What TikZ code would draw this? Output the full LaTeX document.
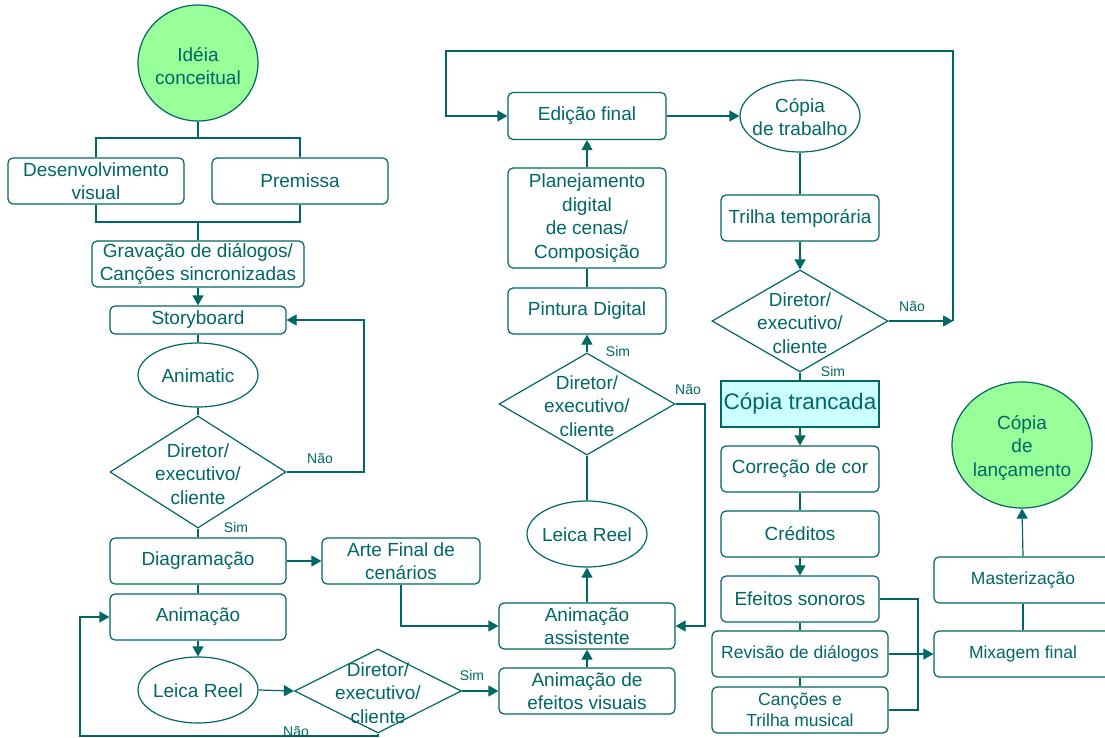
\documentclass[tikz,border=0pt]{standalone}
\usepackage{fontspec}
\setmainfont{Liberation Sans}
\usetikzlibrary{shapes.geometric,arrows.meta}
\definecolor{ink}{HTML}{006666}
\definecolor{lime}{HTML}{99FF99}
\definecolor{ice}{HTML}{CCFFFF}
\newcommand{\fsz}[2]{\fontsize{#1}{#2}\selectfont}

\begin{document}
\begin{tikzpicture}[x=1pt,y=-1pt,
  line/.style={draw=ink, line width=1.2pt},
  flow/.style={line, -{Triangle[length=10pt,width=11pt]}},
  txt/.style={text=ink, align=center, inner sep=0pt, font=\fsz{19}{23.5}},
  small/.style={font=\fsz{17.5}{20.5}},
  tag/.style={text=ink, inner sep=0pt, font=\fsz{14}{16}},
  box/.style n args={2}{line, txt, rectangle, rounded corners=5pt,
    minimum width=#1pt, minimum height=#2pt},
  oval/.style n args={2}{line, ellipse, inner sep=0pt,
    minimum width=#1pt, minimum height=#2pt},
  dia/.style n args={2}{line, diamond, inner sep=0pt,
    minimum width=#1pt, minimum height=#2pt}
]
\useasboundingbox (0,0) rectangle (1105,738);
\fill[white] (0,0) rectangle (1105,738);
\clip (0,0) rectangle (1105,738);

% ---------- left column ----------
\node[oval={120}{116}, fill=lime] (idea) at (198,63) {};
\node[txt] (idea-t) at (198,66) {Idéia\\conceitual};
\node[box={176}{46}] (desv) at (96,181) {Desenvolvimento\\visual};
\node[box={176}{46}] (prem) at (300,181) {Premissa};
\node[box={212}{46}] (grav) at (198,264) {Gravação de diálogos/\\Canções sincronizadas};
\node[box={176}{28}] (story) at (198,320) {Storyboard};
\node[oval={120}{64}] (anim) at (198,375) {};
\node[txt] (anim-t) at (198,376) {Animatic};
\node[dia={176}{112}] (d1) at (198,472) {};
\node[txt] (d1-t) at (198,474) {Diretor/\\executivo/\\cliente};
\node[box={176}{46}] (diag) at (198,561) {Diagramação};
\node[box={158}{46}] (arte) at (401,561) {Arte Final de\\cenários};
\node[box={176}{46}] (animacao) at (198,617) {Animação};
\node[oval={120}{66}] (leica1) at (198,690) {};
\node[txt] (leica1-t) at (198,691) {Leica Reel};
\node[dia={167}{84}] (d2) at (378,691) {};
\node[txt] (d2-t) at (378,693) {Diretor/\\executivo/\\cliente};

% ---------- middle column ----------
\node[box={158}{47}] (edicao) at (587,116) {Edição final};
\node[box={158}{100}] (plan) at (587,218) {Planejamento\\digital\\de cenas/\\Composição};
\node[box={158}{46}] (pint) at (587,311) {Pintura Digital};
\node[dia={176}{102}] (d3) at (587,404) {};
\node[txt] (d3-t) at (587,406) {Diretor/\\executivo/\\cliente};
\node[oval={120}{66}] (leica2) at (587,534) {};
\node[txt] (leica2-t) at (587,535) {Leica Reel};
\node[box={176}{46}] (assist) at (587,626) {Animação\\assistente};
\node[box={176}{46}] (efvis) at (587,691) {Animação de\\efeitos visuais};

% ---------- right column ----------
\node[oval={120}{72}] (copia) at (800,116) {};
\node[txt] (copia-t) at (800,117) {Cópia\\de trabalho};
\node[box={158}{46}] (trilha) at (800,218) {Trilha temporária};
\node[dia={176}{102}] (d4) at (800,321) {};
\node[txt] (d4-t) at (800,323) {Diretor/\\executivo/\\cliente};
\node[line, txt, fill=ice, minimum width=158pt, minimum height=46pt,
  font=\fsz{22.5}{26}] (tranc) at (800,404) {Cópia trancada};
\node[box={158}{46}] (correc) at (800,469) {Correção de cor};
\node[box={158}{46}] (cred) at (800,534) {Créditos};
\node[box={158}{46}] (efson) at (800,599) {Efeitos sonoros};
\node[box={176}{46}, small] (revis) at (800,654) {Revisão de diálogos};
\node[box={176}{46}, small] (cancoes) at (800,710) {Canções e\\Trilha musical};
\node[box={178}{46}, small] (master) at (1023,580) {Masterização};
\node[box={178}{46}, small] (mix) at (1023,654) {Mixagem final};
\node[oval={140}{126}, fill=lime] (lanc) at (1022,445) {};
\node[txt] (lanc-t) at (1022,448) {Cópia\\de\\lançamento};

% ---------- route points ----------
\coordinate (jt) at (198,138);
\coordinate (jb) at (198,222);
\coordinate (r1) at (364,472);
\coordinate (loopL) at (80,736);
\coordinate (r3) at (705,404);
\coordinate (nr) at (953,321);
\coordinate (tl) at (446,51);
\coordinate (sj) at (918,599);

% ---------- connectors, left ----------
\draw[line] (idea.south) -- (jt);
\draw[line] (desv.north) |- (jt) -| (prem.north);
\draw[line] (desv.south) |- (jb) -| (prem.south);
\draw[line] (jb) -- (grav.north);
\draw[flow] (grav.south) -- (story.north);
\draw[line] (story.south) -- (anim.north);
\draw[line] (anim.south) -- (d1.north);
\draw[flow] (d1.east) -- (r1) |- (story.east);
\draw[line] (d1.south) -- (diag.north);
\draw[flow] (diag.east) -- (arte.west);
\draw[line] (diag.south) -- (animacao.north);
\draw[flow] (arte.south) |- (assist.west);
\draw[flow] (animacao.south) -- (leica1.north);
\draw[flow] (leica1.east) -- (d2.west);
\draw[flow] (d2.east) -- (efvis.west);
\draw[flow] (d2.south) |- (loopL) |- (animacao.west);

% ---------- connectors, middle ----------
\draw[flow] (efvis.north) -- (assist.south);
\draw[flow] (assist.north) -- (leica2.south);
\draw[line] (leica2.north) -- (d3.south);
\draw[flow] (d3.north) -- (pint.south);
\draw[flow] (d3.east) -- (r3) |- (assist.east);
\draw[line] (pint.north) -- (plan.south);
\draw[flow] (plan.north) -- (edicao.south);
\draw[flow] (edicao.east) -- (copia.west);

% ---------- connectors, right ----------
\draw[line] (copia.south) -- (trilha.north);
\draw[flow] (trilha.south) -- (d4.north);
\draw[flow] (d4.east) -- (nr);
\draw[flow] (nr) |- (tl) |- (edicao.west);
\draw[line] (d4.south) -- (tranc.north);
\draw[flow] (tranc.south) -- (correc.north);
\draw[line] (correc.south) -- (cred.north);
\draw[flow] (cred.south) -- (efson.north);
\draw[line] (efson.south) -- (revis.north);
\draw[line] (revis.south) -- (cancoes.north);
\draw[line] (efson.east) -- (sj) |- (cancoes.east);
\draw[flow] (revis.east) -- (mix.west);
\draw[line] (mix.north) -- (master.south);
\draw[flow] (master.north) -- (lanc.south);

% ---------- decision labels ----------
\node[tag] (n1) at (320,459) {Não};
\node[tag] (s1) at (236,527) {Sim};
\node[tag] (s2) at (472,675) {Sim};
\node[tag] (n2) at (296,732) {Não};
\node[tag] (s3) at (618,351) {Sim};
\node[tag] (n3) at (688,390) {Não};
\node[tag] (n4) at (912,307) {Não};
\node[tag] (s4) at (833,371) {Sim};
\end{tikzpicture}
\end{document}
